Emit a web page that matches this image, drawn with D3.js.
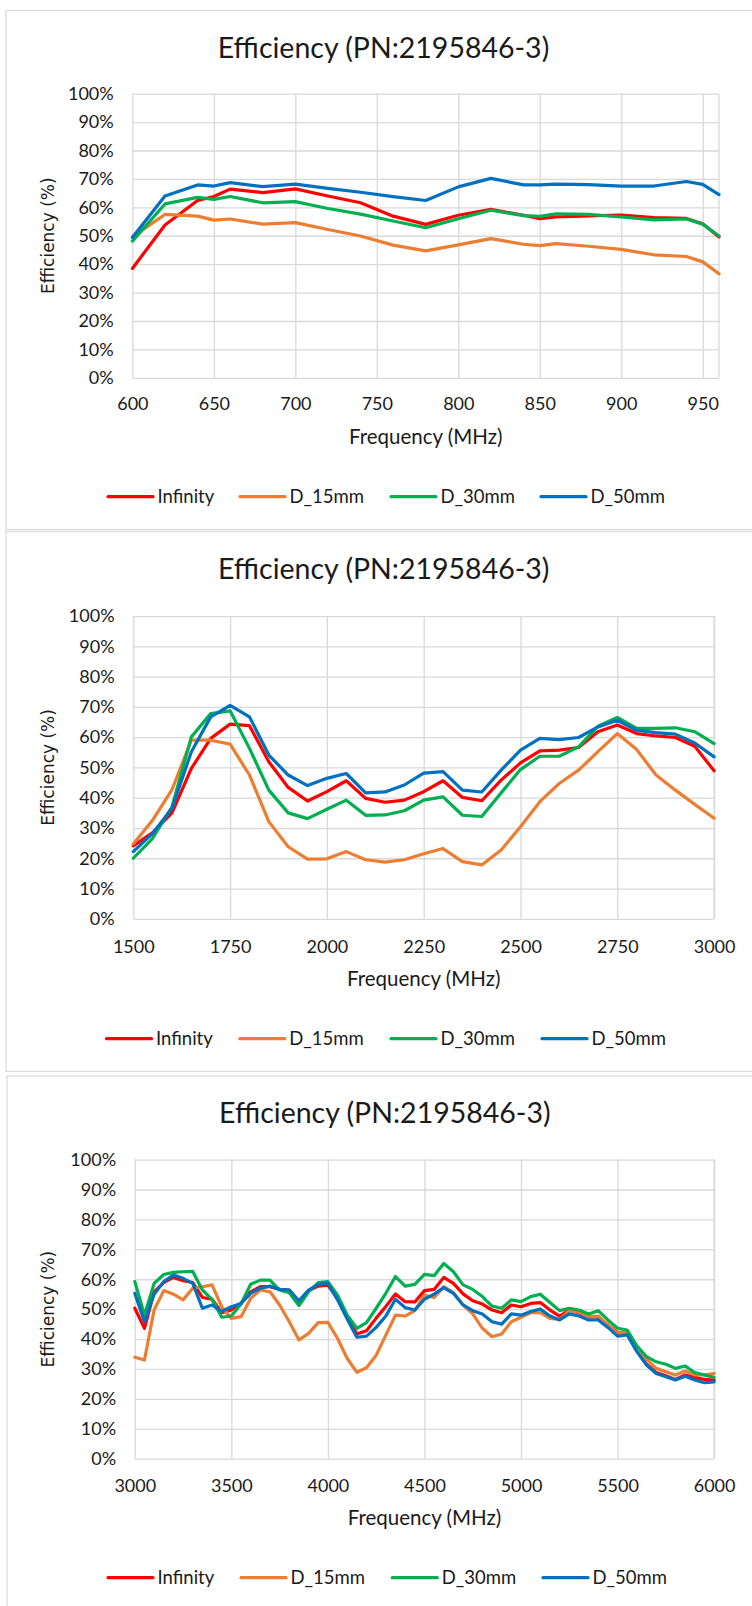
<!DOCTYPE html>
<html><head><meta charset="utf-8">
<script src="https://cdn.jsdelivr.net/npm/d3@7"></script>
<style>
html,body{margin:0;padding:0;background:#fff;}
svg{display:block;}
text{font-family:Lato,"Liberation Sans",sans-serif;fill:#1a1a1a;}
</style></head>
<body>
<svg id="c" width="752" height="1606"></svg>
<script>
// ---------- data ----------
const seriesNames = ["Infinity", "D_15mm", "D_30mm", "D_50mm"];
const seriesColors = ["#FF0000", "#ED7D31", "#00B050", "#0070C0"];
const chartTitle = "Efficiency (PN:2195846-3)";
const xTitle = "Frequency (MHz)";
const yTitle = "Efficiency (%)";
const yTicks = [0, 0.1, 0.2, 0.3, 0.4, 0.5, 0.6, 0.7, 0.8, 0.9, 1.0];

// Chart 1: 600-960 MHz
const freq1 = [600, 620, 640, 650, 660, 680, 700, 720, 740, 760, 780, 800, 820, 840, 850, 860, 880, 900, 920, 940, 950, 960];
const inf1 = [38.5, 53.8, 62.4, 63.8, 66.4, 65.2, 66.5, 64.0, 61.6, 56.9, 54.0, 57.2, 59.3, 57.2, 56.0, 56.6, 57.0, 57.3, 56.4, 56.1, 54.2, 49.6];
const d15_1 = [49.6, 57.5, 56.9, 55.5, 55.9, 54.1, 54.6, 52.2, 49.9, 46.7, 44.7, 46.8, 49.0, 47.0, 46.5, 47.2, 46.3, 45.2, 43.3, 42.7, 40.8, 36.6];
const d30_1 = [48.1, 61.2, 63.5, 62.8, 63.8, 61.6, 62.0, 59.6, 57.6, 55.2, 52.8, 56.0, 59.0, 57.1, 56.8, 57.7, 57.5, 56.6, 55.6, 55.9, 54.1, 49.9];
const d50_1 = [49.4, 64.0, 67.9, 67.5, 68.7, 67.3, 68.2, 66.7, 65.3, 63.8, 62.4, 67.2, 70.2, 67.9, 67.9, 68.2, 68.0, 67.5, 67.5, 69.1, 68.1, 64.5];
const xTicks1 = [600, 650, 700, 750, 800, 850, 900, 950];
const xDomain1 = [600, 960];

// Chart 2: 1500-3000 MHz
const freq2 = [1500, 1550, 1600, 1650, 1700, 1750, 1800, 1850, 1900, 1950, 2000, 2050, 2100, 2150, 2200, 2250, 2300, 2350, 2400, 2450, 2500, 2550, 2600, 2650, 2700, 2750, 2800, 2850, 2900, 2950, 3000];
const inf2 = [24.1, 28.5, 35.0, 49.7, 59.6, 64.3, 63.8, 51.9, 43.4, 38.9, 42.0, 45.6, 39.8, 38.5, 39.2, 42.0, 45.6, 40.1, 39.0, 45.8, 51.5, 55.5, 55.7, 56.6, 61.8, 64.0, 61.2, 60.4, 59.9, 57.0, 48.9];
const d15_2 = [24.7, 32.6, 42.7, 59.0, 59.0, 57.7, 47.5, 32.1, 23.8, 19.7, 19.8, 22.2, 19.5, 18.7, 19.5, 21.5, 23.2, 18.9, 17.8, 22.7, 30.4, 38.7, 44.7, 49.1, 55.2, 61.2, 55.9, 47.5, 42.5, 37.8, 33.2];
const d30_2 = [20.0, 26.6, 37.0, 60.1, 67.8, 68.7, 56.3, 42.5, 35.0, 33.1, 36.2, 39.2, 34.2, 34.3, 35.7, 39.2, 40.3, 34.2, 33.8, 41.6, 49.3, 53.7, 53.7, 56.8, 63.6, 66.5, 62.9, 62.9, 63.1, 61.8, 57.9];
const d50_2 = [22.2, 28.2, 36.5, 55.2, 66.7, 70.5, 66.7, 54.1, 47.5, 44.0, 46.4, 48.0, 41.6, 41.9, 44.2, 48.1, 48.6, 42.5, 41.9, 49.1, 55.7, 59.6, 59.2, 59.9, 63.4, 65.6, 62.3, 61.5, 61.0, 58.1, 53.5];
const xTicks2 = [1500, 1750, 2000, 2250, 2500, 2750, 3000];
const xDomain2 = [1500, 3000];

// Chart 3: 3000-6000 MHz
const freq3 = [3000, 3050, 3100, 3150, 3200, 3250, 3300, 3350, 3400, 3450, 3500, 3550, 3600, 3650, 3700, 3750, 3800, 3850, 3900, 3950, 4000,
  4050, 4100, 4150, 4200, 4250, 4300, 4350, 4400, 4450, 4500, 4550, 4600, 4650, 4700, 4750, 4800, 4850, 4900, 4950, 5000,
  5050, 5100, 5150, 5200, 5250, 5300, 5350, 5400, 5450, 5500, 5550, 5600, 5650, 5700, 5750, 5800, 5850, 5900, 5950, 6000];
const inf3 = [50.3, 43.6, 55.8, 58.9, 60.6, 59.5, 58.9, 53.9, 53.3, 48.8, 49.7, 51.9, 55.8, 57.5, 57.5, 56.6, 56.4, 52.5, 56.2, 57.7, 58.0,
  53.6, 47.3, 41.7, 42.8, 47.0, 50.9, 55.1, 52.5, 52.4, 56.2, 56.6, 60.6, 58.6, 55.1, 52.8, 51.7, 49.7, 48.8, 51.4, 50.8,
  51.9, 52.2, 49.7, 47.7, 49.7, 48.8, 47.5, 47.3, 44.7, 42.2, 41.9, 36.3, 31.6, 28.8, 27.7, 26.5, 28.0, 27.2, 26.5, 26.3];
const d15_3 = [33.9, 33.0, 49.7, 56.2, 55.0, 53.1, 57.0, 57.5, 58.1, 50.8, 46.9, 47.5, 53.6, 56.4, 55.8, 51.4, 45.8, 39.7, 41.9, 45.5, 45.6,
  40.2, 33.5, 28.9, 30.4, 34.6, 41.3, 48.0, 47.7, 49.5, 54.7, 53.9, 57.5, 55.5, 51.4, 48.4, 43.6, 40.8, 41.7, 45.8, 47.3,
  48.8, 48.8, 46.9, 46.6, 49.5, 49.0, 47.5, 47.7, 44.7, 41.9, 42.2, 36.6, 33.2, 30.2, 29.1, 28.0, 29.3, 28.0, 28.0, 28.5];
const d30_3 = [59.2, 48.0, 58.6, 61.6, 62.3, 62.5, 62.6, 56.4, 53.3, 47.3, 47.7, 51.7, 58.3, 59.7, 59.7, 56.4, 55.5, 51.2, 55.8, 58.9, 59.2,
  54.7, 48.0, 43.6, 45.5, 50.3, 55.3, 60.9, 57.7, 58.3, 61.6, 61.2, 65.3, 62.5, 58.1, 56.6, 54.2, 51.0, 50.3, 53.1, 52.5,
  54.2, 55.0, 52.2, 49.5, 50.3, 49.7, 48.4, 49.5, 46.4, 43.6, 43.0, 37.7, 34.1, 32.4, 31.6, 30.2, 31.0, 28.8, 28.0, 27.2];
const d50_3 = [55.3, 45.8, 55.0, 59.2, 61.4, 60.3, 58.6, 50.3, 51.4, 49.2, 50.8, 51.9, 55.3, 57.0, 57.7, 56.6, 56.4, 52.8, 56.4, 58.3, 58.6,
  53.1, 46.7, 40.6, 41.0, 43.9, 47.7, 53.3, 50.5, 49.7, 53.3, 55.0, 57.2, 55.3, 51.4, 49.5, 48.4, 45.8, 45.0, 48.4, 48.0,
  49.2, 50.0, 47.7, 46.4, 48.4, 47.7, 46.4, 46.4, 43.9, 41.0, 41.4, 35.8, 31.3, 28.5, 27.4, 26.3, 27.6, 26.3, 25.4, 25.7];
const xTicks3 = [3000, 3500, 4000, 4500, 5000, 5500, 6000];
const xDomain3 = [3000, 6000];

// ---------- layout ----------
const charts = [
  { freq: freq1, series: [inf1, d15_1, d30_1, d50_1], ticks: xTicks1, domain: xDomain1,
    box: {x: 6, y: 10.5, w: 760, h: 519}, plot: {l: 132.4, r: 719, t: 93.7, b: 377.8},
    titleY: 57.8, titleX: 383.5, tickY: 404, xTitleY: 444.2, legendY: 496.7, legendX: [108, 240, 391, 541] },
  { freq: freq2, series: [inf2, d15_2, d30_2, d50_2], ticks: xTicks2, domain: xDomain2,
    box: {x: 6, y: 531.5, w: 760, h: 540}, plot: {l: 133.3, r: 714.1, t: 616.1, b: 918.8},
    titleY: 578.9, titleX: 383.7, tickY: 946.3, xTitleY: 985.5, legendY: 1038.7, legendX: [106.5, 239.8, 391, 542] },
  { freq: freq3, series: [inf3, d15_3, d30_3, d50_3], ticks: xTicks3, domain: xDomain3,
    box: {x: 7, y: 1076, w: 760, h: 560}, plot: {l: 134.8, r: 714.1, t: 1159.6, b: 1458.7},
    titleY: 1123, titleX: 384.8, tickY: 1485.4, xTitleY: 1524.7, legendY: 1577.7, legendX: [108, 241, 392.3, 543] }
];

const svg = d3.select("#c");
const grid = "#d9d9d9";

charts.forEach(c => {
  const g = svg.append("g");
  const P = c.plot;
  g.append("rect").attr("x", c.box.x).attr("y", c.box.y).attr("width", c.box.w).attr("height", c.box.h)
    .attr("fill", "#fff").attr("stroke", grid).attr("stroke-width", 1.2);

  const x = d3.scaleLinear().domain(c.domain).range([P.l, P.r]);
  const y = d3.scaleLinear().domain([0, 1]).range([P.b, P.t]);

  // horizontal grid + y labels
  const ya = g.append("g").attr("transform", `translate(${P.l},0)`)
    .call(d3.axisLeft(y).tickValues(yTicks).tickSize(-(P.r - P.l)).tickPadding(18.7).tickFormat(d3.format(".0%")));
  ya.select(".domain").remove();
  ya.selectAll(".tick line").attr("stroke", grid).attr("stroke-width", 1.3);
  ya.selectAll(".tick text").attr("font-size", 18).attr("fill", "#1a1a1a").style("font-family", "Lato");

  // vertical grid + x labels
  const xa = g.append("g").attr("transform", `translate(0,${P.b})`)
    .call(d3.axisBottom(x).tickValues(c.ticks).tickSize(-(P.b - P.t)).tickFormat(d3.format("d")));
  xa.select(".domain").remove();
  xa.selectAll(".tick line").attr("stroke", grid).attr("stroke-width", 1.3);
  xa.selectAll(".tick text").attr("font-size", 18).attr("fill", "#1a1a1a").style("font-family", "Lato")
    .attr("y", c.tickY - P.b).attr("dy", "0.36em");
  // right edge line at domain end
  g.append("line").attr("x1", x(c.domain[1])).attr("x2", x(c.domain[1])).attr("y1", P.t).attr("y2", P.b)
    .attr("stroke", grid).attr("stroke-width", 1.3);

  // lines
  const line = d3.line().x(d => x(d[0])).y(d => y(d[1] / 100));
  c.series.forEach((vals, i) => {
    g.append("path").datum(c.freq.map((f, k) => [f, vals[k]]))
      .attr("d", line).attr("fill", "none").attr("stroke", seriesColors[i])
      .attr("stroke-width", 3.2).attr("stroke-linejoin", "round").attr("stroke-linecap", "round");
  });

  // title
  g.append("text").attr("x", c.titleX).attr("y", c.titleY).attr("text-anchor", "middle")
    .attr("font-size", 28.5).text(chartTitle);
  // x title
  g.append("text").attr("x", (P.l + P.r) / 2).attr("y", c.xTitleY).attr("text-anchor", "middle")
    .attr("font-size", 20.5).text(xTitle);
  // y title
  g.append("text").attr("transform", `translate(48,${(P.t + P.b) / 2}) rotate(-90)`)
    .attr("text-anchor", "middle").attr("dy", "0.35em").attr("font-size", 17)
    .style("font-family", "'DejaVu Sans',sans-serif").text(yTitle);

  // legend
  seriesNames.forEach((n, i) => {
    const lx = c.legendX[i];
    g.append("line").attr("x1", lx).attr("x2", lx + 45).attr("y1", c.legendY).attr("y2", c.legendY)
      .attr("stroke", seriesColors[i]).attr("stroke-width", 3.2).attr("stroke-linecap", "round");
    g.append("text").attr("x", lx + 49.5).attr("y", c.legendY).attr("dy", "0.36em")
      .attr("font-size", 18.5).text(n);
  });
});
</script>
</body></html>
